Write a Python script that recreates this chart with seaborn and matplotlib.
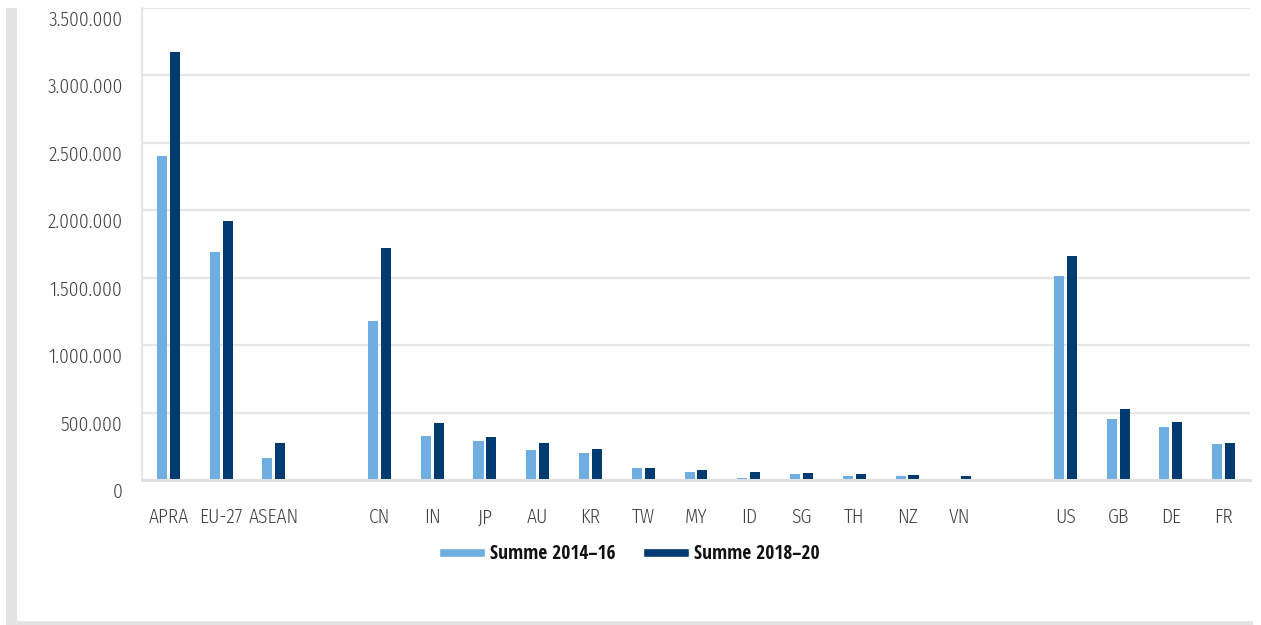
import matplotlib
matplotlib.use("Agg")
import matplotlib.pyplot as plt
import matplotlib.patches as mpatches
import matplotlib.transforms as mtransforms
from matplotlib import font_manager as fm
from matplotlib.ticker import FuncFormatter, FixedLocator
import seaborn as sns
import pandas as pd
import numpy as np

categories = ["APRA", "EU-27", "ASEAN", "CN", "IN", "JP", "AU", "KR", "TW", "MY",
              "ID", "SG", "TH", "NZ", "VN", "US", "GB", "DE", "FR"]
order = ["APRA", "EU-27", "ASEAN", " ", "CN", "IN", "JP", "AU", "KR", "TW", "MY",
         "ID", "SG", "TH", "NZ", "VN", "  ", "US", "GB", "DE", "FR"]
summe_2014_16 = [2404000, 1690000, 163000, 1181000, 326000, 289000, 222000, 200000,
                 89000, 59000, 15000, 44000, 30000, 30000, 7000, 1512000, 452000,
                 393000, 267000]
summe_2018_20 = [3172000, 1920000, 274000, 1720000, 423000, 319000, 274000, 230000,
                 89000, 74000, 59000, 52000, 44000, 37000, 30000, 1660000, 526000,
                 430000, 274000]
series_names = ["Summe 2014\u201316", "Summe 2018\u201320"]
colors = ["#6FAEE0", "#003A70"]
yticks = [0, 500000, 1000000, 1500000, 2000000, 2500000, 3000000, 3500000]

df = pd.DataFrame({
    "cat": categories * 2,
    "value": summe_2014_16 + summe_2018_20,
    "series": [series_names[0]] * len(categories) + [series_names[1]] * len(categories),
})

sns.set_style("white")

# choose condensed fonts if present
weights = {}
for f in fm.fontManager.ttflist:
    w = f.weight if isinstance(f.weight, int) else {"light": 300, "normal": 400, "regular": 400,
                                                     "bold": 700}.get(str(f.weight), 400)
    weights.setdefault(f.name, set()).add(w)

def pick_light():
    if "Open Sans Condensed Light" in weights:
        return "Open Sans Condensed Light"
    if "Open Sans Condensed" in weights and min(weights["Open Sans Condensed"]) <= 400:
        return "Open Sans Condensed"
    for c in ["Fira Sans Condensed", "Encode Sans Condensed", "Roboto Condensed", "Asap Condensed"]:
        if c in weights:
            return c
    return "DejaVu Sans"

def pick_bold():
    for c in ["Open Sans Condensed", "Open Sans Condensed Bold", "Fira Sans Condensed",
              "Roboto Condensed", "Asap Condensed"]:
        if c in weights:
            return c
    return "DejaVu Sans"

light_fam = [pick_light(), "DejaVu Sans"]
bold_fam = [pick_bold(), "DejaVu Sans"]
plt.rcParams["font.family"] = light_fam

fig = plt.figure(figsize=(12.61, 6.25), dpi=100)
fig.patch.set_facecolor("white")

# frame bands (shadow-like border)
fig.add_artist(mpatches.Rectangle((6 / 1261, 0), 11 / 1261, 1 - 8 / 625,
                                  transform=fig.transFigure, color="#e3e3e3", lw=0, zorder=0))
fig.add_artist(mpatches.Rectangle((6 / 1261, 0), 1247 / 1261, 4 / 625,
                                  transform=fig.transFigure, color="#e3e3e3", lw=0, zorder=0))

ax = fig.add_axes([142 / 1261, 1 - 480 / 625, 1108 / 1261, (480 - 7.7) / 625])
sns.barplot(data=df, x="cat", y="value", hue="series", order=order,
            hue_order=series_names, palette=colors, width=0.49,
            errorbar=None, ax=ax, legend=True, saturation=1)

# make each bar ~10px wide keeping its centre
bar_w = 0.19
for p in ax.patches:
    if isinstance(p, mpatches.Rectangle) and p.get_height() > 0:
        c = p.get_x() + p.get_width() / 2
        p.set_width(bar_w)
        p.set_x(c - bar_w / 2)
        p.set_linewidth(0)

ax.set_xlim(-0.5, len(order) - 0.5)
ax.set_ylim(0, 3500000)
ax.yaxis.set_major_locator(FixedLocator(yticks))
ax.yaxis.set_major_formatter(FuncFormatter(lambda v, p: f"{int(v):,}".replace(",", ".")))
ax.grid(axis="y", color="#e6e6e6", lw=1.6)
ax.set_axisbelow(True)
ax.set_xlabel("")
ax.set_ylabel("")

for s in ["top", "right"]:
    ax.spines[s].set_visible(False)
ax.spines["left"].set_color("#e6e6e6")
ax.spines["left"].set_linewidth(1.6)
ax.spines["bottom"].set_color("#e0e0e0")
ax.spines["bottom"].set_linewidth(2.2)

ax.tick_params(axis="y", length=0, pad=14, labelsize=14, labelcolor="#404040")
ax.tick_params(axis="x", which="major", length=0, pad=20, labelsize=14, labelcolor="#404040")
ax.set_xticks(range(len(order)))
ax.set_xticklabels(order)
for t in ax.get_xticklabels() + ax.get_yticklabels():
    t.set_fontweight(300)
    t.set_family(light_fam)

# y labels sit slightly below their gridlines in the reference
offset = mtransforms.ScaledTranslation(0, -10.5 / 100, fig.dpi_scale_trans)
for t in ax.get_yticklabels():
    t.set_transform(t.get_transform() + offset)

ax.xaxis.set_minor_locator(FixedLocator(np.arange(-0.5, len(order), 1.0)))
ax.tick_params(axis="x", which="minor", direction="in", length=8, width=1.6, color="#e6e6e6")

leg = ax.legend(loc="upper center", bbox_to_anchor=(0.4395, -0.099), ncol=2, frameon=False,
                handlelength=2.37, handleheight=0.36, handletextpad=0.26, columnspacing=1.4,
                prop={"family": bold_fam, "weight": "bold", "size": 14})
for t in leg.get_texts():
    t.set_color("#111111")

fig.savefig("out.png", dpi=100, facecolor="white")
